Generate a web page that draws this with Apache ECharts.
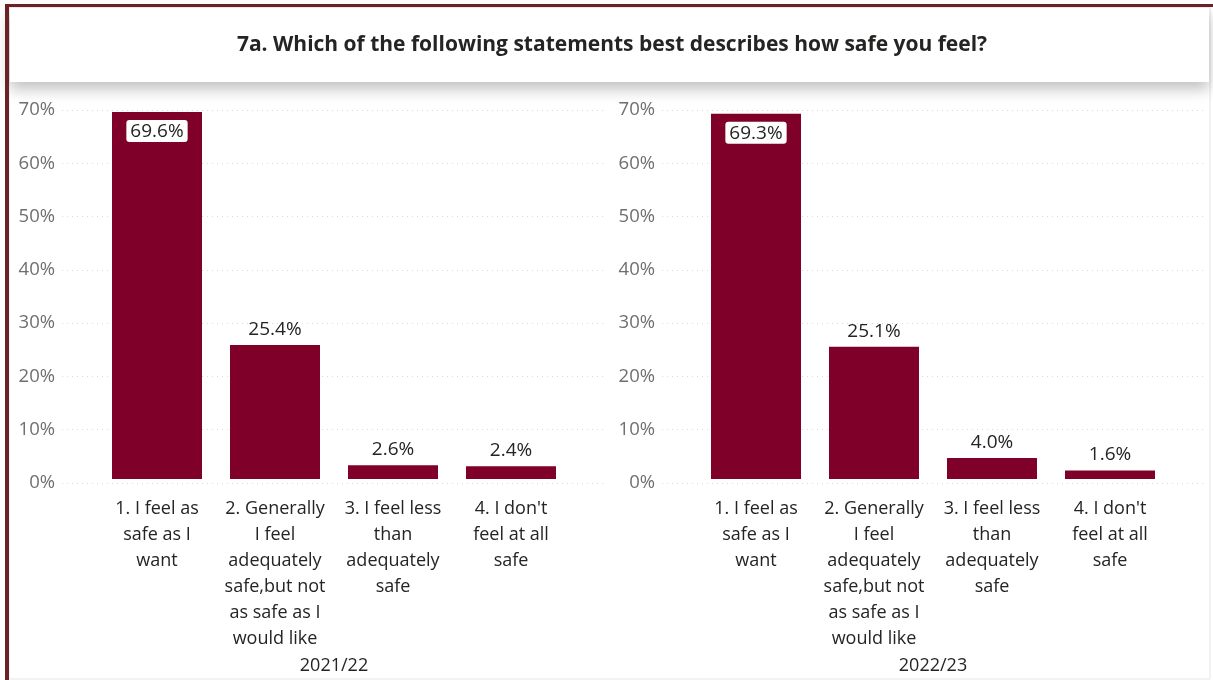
<!DOCTYPE html>
<html>
<head>
<meta charset="utf-8">
<script src="https://cdn.jsdelivr.net/npm/echarts@6/dist/echarts.min.js"></script>
<style>
  html, body { margin: 0; padding: 0; background: #ffffff; }
  #chart { width: 1213px; height: 680px; }
</style>
</head>
<body>
<div id="chart"></div>
<script>
// Survey question and response options
const titleText = '7a. Which of the following statements best describes how safe you feel?';
const categories = [
  '1. I feel as\nsafe as I\nwant',
  '2. Generally\nI feel\nadequately\nsafe,but not\nas safe as I\nwould like',
  '3. I feel less\nthan\nadequately\nsafe',
  "4. I don't\nfeel at all\nsafe"
];
// Percentage of respondents per option, by survey year
const years = ['2021/22', '2022/23'];
const values2122 = [69.6, 25.4, 2.6, 2.4];
const values2223 = [69.3, 25.1, 4.0, 1.6];
// Value axis ticks (percent)
const yMin = 0, yMax = 70, yStep = 10;

const FONT = "'Segoe UI', 'Open Sans', 'Noto Sans', sans-serif";
const BAR = '#7f0028';
const TEXT = '#252423';
const AXIS_GREY = '#6f6f6f';

const chart = echarts.init(document.getElementById('chart'), null, { renderer: 'canvas' });

const TOP = 110, BOTTOM = 680 - 483;
// Each panel: a wide grid carrying the dotted gridlines and tick labels,
// plus a narrower grid holding the bars.
const panels = [
  { gridLeft: 62, gridRight: 1213 - 603, barLeft: 98, data: values2122, year: years[0] },
  { gridLeft: 662, gridRight: 1213 - 1205, barLeft: 697, data: values2223, year: years[1] }
];

const grid = [], xAxis = [], yAxis = [], series = [];
panels.forEach((p, i) => {
  const gi = grid.length;
  grid.push({ left: p.gridLeft, right: p.gridRight, top: TOP, bottom: BOTTOM, containLabel: false });
  grid.push({ left: p.barLeft, width: 472, top: TOP, bottom: BOTTOM, containLabel: false });

  xAxis.push({ gridIndex: gi, type: 'value', show: false, min: 0, max: 1 });
  yAxis.push({
    gridIndex: gi, type: 'value', min: yMin, max: yMax, interval: yStep,
    axisLine: { show: false }, axisTick: { show: false },
    axisLabel: { formatter: '{value}%', color: AXIS_GREY, fontSize: 18.5, fontFamily: FONT, margin: 7 },
    splitLine: { show: true, lineStyle: { color: '#d9d9d9', type: [1, 4], width: 1 } }
  });

  xAxis.push({
    gridIndex: gi + 1, type: 'category', data: categories,
    axisLine: { show: false }, axisTick: { show: false },
    axisLabel: { color: TEXT, fontSize: 18, fontFamily: FONT, lineHeight: 26, margin: 17, interval: 0 },
    name: p.year, nameLocation: 'middle', nameGap: 178,
    nameTextStyle: { color: TEXT, fontSize: 18, fontFamily: FONT }
  });
  yAxis.push({ gridIndex: gi + 1, type: 'value', min: yMin, max: yMax, interval: yStep, show: false, splitLine: { show: false } });

  series.push({
    type: 'bar', xAxisIndex: xAxis.length - 1, yAxisIndex: yAxis.length - 1,
    barWidth: 90,
    itemStyle: { color: BAR },
    data: p.data.map((v, k) => ({
      value: v,
      label: k === 0 ? {
        position: 'insideTop', distance: 8, backgroundColor: '#ffffff',
        borderRadius: 3, padding: [2, 4, 1, 4]
      } : { position: 'top', distance: 6 }
    })),
    label: {
      show: true, formatter: (d) => d.value.toFixed(1) + '%',
      color: TEXT, fontSize: 19, fontFamily: FONT
    }
  });
});

chart.setOption({
  backgroundColor: '#ffffff',
  animation: false,
  graphic: [
    // outer frame
    { type: 'rect', shape: { x: 9, y: 7, width: 1201, height: 672 }, style: { fill: '#ffffff', stroke: '#e6e6e6', lineWidth: 1 }, z: -10 },
    { type: 'rect', shape: { x: 5, y: 4, width: 1208, height: 3 }, style: { fill: '#6b2226' }, z: 10 },
    { type: 'rect', shape: { x: 5, y: 4, width: 4, height: 676 }, style: { fill: '#6b2226' }, z: 10 },
    // title band with drop shadow
    { type: 'rect', shape: { x: 10, y: 8, width: 1199, height: 74 },
      style: { fill: '#ffffff', shadowBlur: 14, shadowOffsetY: 7, shadowColor: 'rgba(0,0,0,0.25)' }, z: 5 },
    { type: 'text', x: 612, y: 45, z: 6,
      style: { text: titleText, fill: TEXT, font: 'bold 21px ' + FONT, align: 'center', verticalAlign: 'middle' } }
  ],
  grid, xAxis, yAxis, series
});
</script>
</body>
</html>
